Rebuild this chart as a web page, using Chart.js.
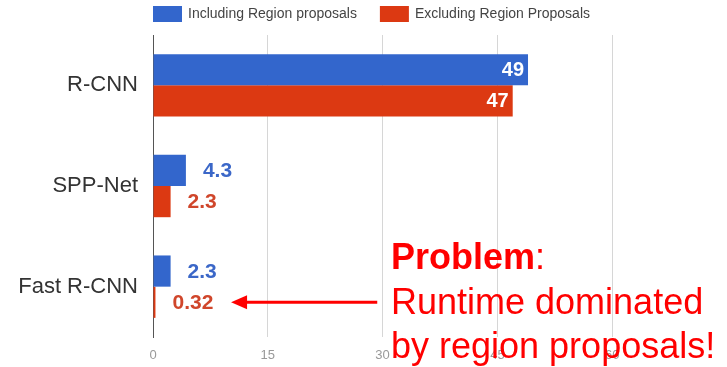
<!DOCTYPE html>
<html>
<head>
<meta charset="utf-8">
<script src="https://cdn.jsdelivr.net/npm/chart.js@4.4.1/dist/chart.umd.min.js"></script>
<style>
  html, body { margin: 0; padding: 0; background: #fff; }
  #wrap { width: 727px; height: 367px; position: relative; }
</style>
</head>
<body>
<div id="wrap"><canvas id="runtime_chart"></canvas></div>
<script>
const categories = ['R-CNN', 'SPP-Net', 'Fast R-CNN'];
const including_rp = [49, 4.3, 2.3];
const excluding_rp = [47, 2.3, 0.32];
const x_ticks = [0, 15, 30, 45, 60];
const x_max = 75;

const blue = '#3366cc';
const red = '#dc3912';

// legend drawn by hand so it starts at the plot's left edge
const legendPlugin = {
  id: 'left_legend',
  afterDraw(chart) {
    const ctx = chart.ctx;
    let x = chart.chartArea.left;
    ctx.save();
    ctx.font = '14px "Liberation Sans", Arial, sans-serif';
    ctx.textBaseline = 'middle';
    chart.data.datasets.forEach(ds => {
      ctx.fillStyle = ds.backgroundColor;
      ctx.fillRect(x, 6, 29, 16);
      ctx.fillStyle = '#444';
      ctx.fillText(ds.label, x + 35, 14.5);
      x += 35 + ctx.measureText(ds.label).width + 23;
    });
    ctx.restore();
  }
};

// value labels: inside for long bars, outside for short ones
const valueLabels = {
  id: 'value_labels',
  afterDatasetsDraw(chart) {
    const ctx = chart.ctx;
    ctx.save();
    ctx.textBaseline = 'middle';
    chart.data.datasets.forEach((ds, i) => {
      const meta = chart.getDatasetMeta(i);
      meta.data.forEach((bar, j) => {
        const v = ds.data[j];
        if (v > 10) {
          ctx.font = 'bold 20px "Liberation Sans", Arial, sans-serif';
          ctx.fillStyle = '#fff';
          ctx.textAlign = 'right';
          ctx.fillText(String(v), bar.x - 4, bar.y + 1);
        } else {
          ctx.font = 'bold 21px "Liberation Sans", Arial, sans-serif';
          ctx.fillStyle = ds.labelColor;
          ctx.textAlign = 'left';
          ctx.fillText(String(v), bar.x + 17, bar.y + 1);
        }
      });
    });
    ctx.restore();
  }
};

// red note + arrow pointing at the Fast R-CNN label
const notePlugin = {
  id: 'note',
  afterDraw(chart) {
    const ctx = chart.ctx;
    const xs = chart.scales.x;
    const meta = chart.getDatasetMeta(1);
    const ay = meta.data[2].y;
    const tip = xs.getPixelForValue(10.2);
    const tail = xs.getPixelForValue(29.3);
    ctx.save();
    ctx.strokeStyle = '#f00';
    ctx.fillStyle = '#f00';
    ctx.lineWidth = 3;
    ctx.beginPath();
    ctx.moveTo(tail, ay);
    ctx.lineTo(tip + 12, ay);
    ctx.stroke();
    ctx.beginPath();
    ctx.moveTo(tip, ay);
    ctx.lineTo(tip + 16, ay - 7);
    ctx.lineTo(tip + 16, ay + 7);
    ctx.closePath();
    ctx.fill();

    const tx = 391;
    ctx.textBaseline = 'alphabetic';
    ctx.textAlign = 'left';
    ctx.font = 'bold 36px "Liberation Sans", Arial, sans-serif';
    ctx.fillText('Problem', tx, 269);
    const w = ctx.measureText('Problem').width;
    ctx.font = '36px "Liberation Sans", Arial, sans-serif';
    ctx.fillText(':', tx + w, 269);
    ctx.fillText('Runtime dominated', tx, 314);
    ctx.fillText('by region proposals!', tx, 358);
    ctx.restore();
  }
};

new Chart(document.getElementById('runtime_chart'), {
  type: 'bar',
  data: {
    labels: categories,
    datasets: [
      { label: 'Including Region proposals', data: including_rp, backgroundColor: blue, labelColor: '#3b67c8', borderWidth: 0 },
      { label: 'Excluding Region Proposals', data: excluding_rp, backgroundColor: red, labelColor: '#d0462b', borderWidth: 0 }
    ]
  },
  options: {
    indexAxis: 'y',
    responsive: true,
    maintainAspectRatio: false,
    animation: false,
    layout: { padding: { top: 35, left: 0, right: 0, bottom: 0 } },
    datasets: { bar: { barPercentage: 1, categoryPercentage: 0.62 } },
    plugins: { legend: { display: false }, tooltip: { enabled: false } },
    scales: {
      x: {
        min: 0,
        max: x_max,
        afterBuildTicks(scale) {
          scale.ticks = x_ticks.map(v => ({ value: v }));
        },
        afterFit(scale) { scale.height = 30; },
        ticks: {
          padding: 11,
          color: '#999',
          font: { size: 13, family: '"Liberation Sans", Arial, sans-serif' }
        },
        grid: { drawTicks: false, color: '#d6d6d6' },
        border: { display: false }
      },
      y: {
        afterFit(scale) { scale.width = 153; },
        ticks: {
          padding: 15,
          color: '#333',
          font: { size: 22, family: '"Liberation Sans", Arial, sans-serif' }
        },
        grid: { display: false, drawTicks: false },
        border: { display: true, color: '#555', width: 1 }
      }
    }
  },
  plugins: [legendPlugin, valueLabels, notePlugin]
});
</script>
</body>
</html>
